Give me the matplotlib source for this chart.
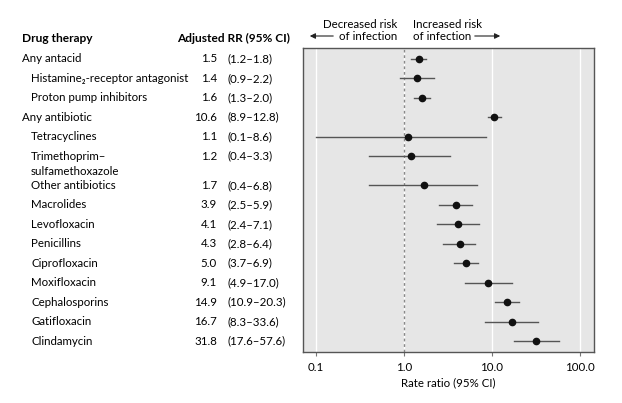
import numpy as np
import matplotlib
matplotlib.use("Agg")
import matplotlib.pyplot as plt
from matplotlib.patches import FancyArrowPatch
from matplotlib.transforms import blended_transform_factory

plt.rcParams['font.family'] = ['Lato', 'DejaVu Sans']

# data
drugs = ["Any antacid", "Histamine₂-receptor antagonist", "Proton pump inhibitors",
         "Any antibiotic", "Tetracyclines", "Trimethoprim–", "Other antibiotics",
         "Macrolides", "Levofloxacin", "Penicillins", "Ciprofloxacin", "Moxifloxacin",
         "Cephalosporins", "Gatifloxacin", "Clindamycin"]
indented = [False, True, True, False, True, True, True, True, True, True, True, True, True, True, True]
rr = [1.5, 1.4, 1.6, 10.6, 1.1, 1.2, 1.7, 3.9, 4.1, 4.3, 5.0, 9.1, 14.9, 16.7, 31.8]
ci_low = [1.2, 0.9, 1.3, 8.9, 0.1, 0.4, 0.4, 2.5, 2.4, 2.8, 3.7, 4.9, 10.9, 8.3, 17.6]
ci_high = [1.8, 2.2, 2.0, 12.8, 8.6, 3.3, 6.8, 5.9, 7.1, 6.4, 6.9, 17.0, 20.3, 33.6, 57.6]
ticks = [0.1, 1.0, 10.0, 100.0]

# row positions (extra gap after the two-line label)
ypos = [0, 1, 2, 3, 4, 5, 6.5, 7.5, 8.5, 9.5, 10.5, 11.5, 12.5, 13.5, 14.5]

W, H = 622, 403
fig = plt.figure(figsize=(W / 100, H / 100), dpi=100)
ax = fig.add_axes([303 / W, 1 - 352 / H, 291 / W, 304 / H])

ax.set_facecolor("#e6e6e6")
ax.set_xscale("log")
ax.set_xlim(10 ** (-1 - 13 / 88.2), 10 ** (2 + 14 / 88.2))
ax.set_ylim(14.5 + 0.56, -0.56)
for t in ticks:
    ax.axvline(t, color="white", lw=1.0, zorder=1)
ax.axvline(1.0, color="#888888", lw=1.0, ls=(0, (2, 2)), zorder=2)

for y, r, lo, hi in zip(ypos, rr, ci_low, ci_high):
    ax.plot([lo, hi], [y, y], color="#555555", lw=1.0, zorder=3)
ax.plot(rr, ypos, "o", color="#111111", ms=4.5, zorder=4)

fs = 8.3
fsb = 8.6
ax.set_xticks(ticks)
ax.set_xticklabels(["%.1f" % t for t in ticks], fontsize=fs)
ax.minorticks_off()
ax.set_yticks([])
ax.tick_params(axis="x", length=3, color="#777777", pad=4)
ax.set_xlabel("Rate ratio (95% CI)", fontsize=fs, labelpad=3)
for s in ax.spines.values():
    s.set_color("#555555")
    s.set_linewidth(1.0)

# table on the left
tr = blended_transform_factory(fig.transFigure, ax.transData)
for name, ind, y, r, lo, hi in zip(drugs, indented, ypos, rr, ci_low, ci_high):
    x = (31 if ind else 22) / W
    fig.text(x, y, name, transform=tr, fontsize=fs, va="center", ha="left")
    fig.text(217 / W, y, "%.1f" % r, transform=tr, fontsize=fs, va="center", ha="right")
    fig.text(228 / W, y, "(%.1f–%.1f)" % (lo, hi), transform=tr, fontsize=fs, va="center", ha="left")
fig.text(31 / W, 5.78, "sulfamethoxazole", transform=tr, fontsize=fs, va="center", ha="left")

fig.text(22 / W, 1 - 38 / H, "Drug therapy", fontsize=fsb, fontweight="bold", va="center")
fig.text(290 / W, 1 - 38 / H, "Adjusted RR (95% CI)", fontsize=fsb, fontweight="bold",
         va="center", ha="right")

# direction annotations
fig.text(397 / W, 1 - 30.5 / H, "Decreased risk\nof infection", fontsize=fs, ha="right",
         va="center", linespacing=1.1)
fig.text(413 / W, 1 - 30.5 / H, "Increased risk\nof infection", fontsize=fs, ha="left",
         va="center", linespacing=1.1)
arr = dict(arrowstyle="-|>", color="#222222", lw=0.8, mutation_scale=8)
fig.patches.append(FancyArrowPatch((336 / W, 1 - 36 / H), (307 / W, 1 - 36 / H),
                                   transform=fig.transFigure, **arr))
fig.patches.append(FancyArrowPatch((472 / W, 1 - 36 / H), (503 / W, 1 - 36 / H),
                                   transform=fig.transFigure, **arr))

fig.savefig("out.png", dpi=100)
